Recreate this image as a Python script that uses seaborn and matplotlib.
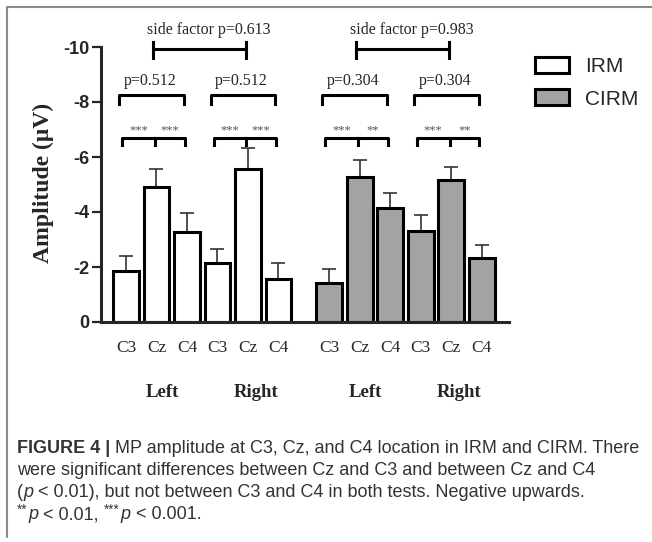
import numpy as np
import pandas as pd
import matplotlib
matplotlib.use("Agg")
import matplotlib.pyplot as plt
from matplotlib.lines import Line2D
from matplotlib.patches import Patch
import seaborn as sns

# Chart values (negative amplitudes, plotted upwards)
electrodes = ["C3", "Cz", "C4", "C3", "Cz", "C4"]
sides = ["Left", "Right"]
conditions = ["IRM", "CIRM"]
irm_mean = [-1.86, -4.90, -3.29, -2.15, -5.58, -1.56]
irm_err = [0.53, 0.68, 0.68, 0.51, 0.73, 0.59]
cirm_mean = [-1.43, -5.27, -4.14, -3.31, -5.15, -2.33]
cirm_err = [0.50, 0.63, 0.56, 0.58, 0.49, 0.46]
stars = [["***", "***"], ["***", "***"], ["***", "**"], ["***", "**"]]
within_p = ["p=0.512", "p=0.512", "p=0.304", "p=0.304"]
side_p = ["side factor p=0.613", "side factor p=0.983"]

# caption pieces: (text, style) where style is "b" bold, "i" italic, "s" superscript
caption = [
    [("FIGURE 4 | ", "b"), ("MP amplitude at C3, Cz, and C4 location in IRM and CIRM. There", "")],
    [("were significant differences between Cz and C3 and between Cz and C4", "")],
    [("(", ""), ("p", "i"), (" < 0.01), but not between C3 and C4 in both tests. Negative upwards.", "")],
    [("**", "s"), ("p", "i"), (" < 0.01, ", ""), ("***", "s"), ("p", "i"), (" < 0.001.", "")],
]

sns.set_style("ticks")
plt.rcParams["font.family"] = ["Liberation Sans", "DejaVu Sans"]
plt.rcParams["axes.unicode_minus"] = False

# bar layout: two blocks of six bars with a wider gap between them
gap = 6.66
pos = np.concatenate([np.arange(6), np.arange(6) + gap])

df = pd.DataFrame({
    "pos": pos,
    "value": irm_mean + cirm_mean,
    "err": irm_err + cirm_err,
    "condition": ["IRM"] * 6 + ["CIRM"] * 6,
    "electrode": electrodes * 2,
})

colors = {"IRM": "white", "CIRM": "#a3a3a7"}

fig = plt.figure(figsize=(6.52, 5.42), dpi=100)
ax = fig.add_axes([101 / 652, 1 - 322 / 542, 408 / 652, 275 / 542])

sns.barplot(data=df, x="pos", y="value", hue="condition", hue_order=conditions,
            palette=colors, native_scale=True, dodge=False, width=0.85,
            errorbar=None, edgecolor="black", linewidth=2.2, legend=False, ax=ax)

ax.errorbar(df["pos"], df["value"], yerr=[df["err"], np.zeros(len(df))],
            fmt="none", ecolor="#333333", elinewidth=1.2, capsize=5,
            capthick=1.2, zorder=0.5)

ax.set_xlim(-0.82, 12.56)
ax.set_ylim(0, -10)
ax.set_yticks([0, -2, -4, -6, -8, -10])
ax.set_yticklabels(["0", "-2", "-4", "-6", "-8", "-10"])
ax.set_xticks(pos)
ax.set_xticklabels(df["electrode"], family="Liberation Serif", fontsize=12.5)
ax.tick_params(axis="x", length=0, pad=13)
ax.tick_params(axis="y", length=6.5, width=1.6, pad=2, labelsize=13)
for t in ax.get_yticklabels():
    t.set_fontweight("bold")
ax.set_xlabel("")
ax.set_ylabel("")
sns.despine(ax=ax)
ax.spines["left"].set_linewidth(2.2)
ax.spines["bottom"].set_linewidth(2.2)

fig.text(43 / 652, 1 - 183 / 542, "Amplitude (\u03bcV)", rotation=90,
         family="Liberation Serif", fontweight="bold", fontsize=17,
         ha="center", va="center")

# side labels under each block
side_offsets = [1.18, 1.26]
for b in range(2):
    for s in range(2):
        x0 = pos[b * 6 + s * 3]
        ax.text(x0 + side_offsets[s], -0.255, sides[s], transform=ax.get_xaxis_transform(),
                family="Liberation Serif", fontweight="bold", fontsize=13.5,
                ha="center", va="center")

lw = 2.2
kw = dict(color="black", lw=lw, clip_on=False, solid_capstyle="projecting")
serif = dict(family="Liberation Serif", ha="center", clip_on=False)

for g in range(4):
    a, m, c = pos[g * 3] - 0.12, pos[g * 3 + 1] - 0.05, pos[g * 3 + 2] - 0.08
    # first level: Cz against C3 and C4
    ax.plot([a, a, c, c], [-6.43, -6.7, -6.7, -6.43], **kw)
    ax.plot([m, m], [-6.7, -6.43], **kw)
    ax.text((a + m) / 2, -6.85, stars[g][0], fontsize=9, color="#555555",
            va="baseline", **serif)
    ax.text((m + c) / 2, -6.85, stars[g][1], fontsize=9, color="#555555",
            va="baseline", **serif)
    # second level: C3 against C4
    a2, c2 = pos[g * 3] - 0.22, pos[g * 3 + 2] - 0.1
    ax.plot([a2, a2, c2, c2], [-7.93, -8.25, -8.25, -7.93], **kw)
    ax.text((a2 + c2) / 2 - 0.05, -8.62, within_p[g], fontsize=11.5,
            va="baseline", **serif)

for b in range(2):
    a, c = pos[b * 6 + 1] - 0.12, pos[b * 6 + 4] - 0.07
    ax.plot([a, c], [-9.93, -9.93], **kw)
    ax.plot([a, a], [-9.6, -10.17], **kw)
    ax.plot([c, c], [-9.6, -10.17], **kw)
    ax.text((a + c) / 2 + 0.3, -10.48, side_p[b], fontsize=11.5,
            va="baseline", **serif)

handles = [Patch(facecolor=colors[c], edgecolor="black", linewidth=2.2, label=c)
           for c in conditions]
fig.legend(handles=handles, loc="upper left", bbox_to_anchor=(535 / 652, 1 - 57 / 542),
           frameon=False, fontsize=15, handlelength=1.65, handleheight=0.82,
           handletextpad=0.75, labelspacing=0.62, borderpad=0, borderaxespad=0)

# caption, written piece by piece so bold / italic / superscript parts line up
renderer = fig.canvas.get_renderer()
cap_size = 13
baselines = [453, 475, 497, 519]
for pieces, yb in zip(caption, baselines):
    x_px = 17.0
    for txt, style in pieces:
        props = dict(fontsize=cap_size, color="#333333", ha="left", va="baseline")
        dy = 0
        if style == "b":
            props["fontweight"] = "bold"
        elif style == "i":
            props["fontstyle"] = "italic"
        elif style == "s":
            props["fontsize"] = cap_size * 0.75
            dy = 5
        t = fig.text(x_px / 652, (542 - yb + dy) / 542, txt, **props)
        x_px += t.get_window_extent(renderer).width + (1 if style == "s" else 0)

# panel frame (left and top edges)
fig.add_artist(Line2D([7 / 652, 7 / 652, 1.0], [1 - 537 / 542, 1 - 7 / 542, 1 - 7 / 542],
                      transform=fig.transFigure, color="#8a8a8a", lw=1.5))

fig.savefig("out.png", dpi=100)
